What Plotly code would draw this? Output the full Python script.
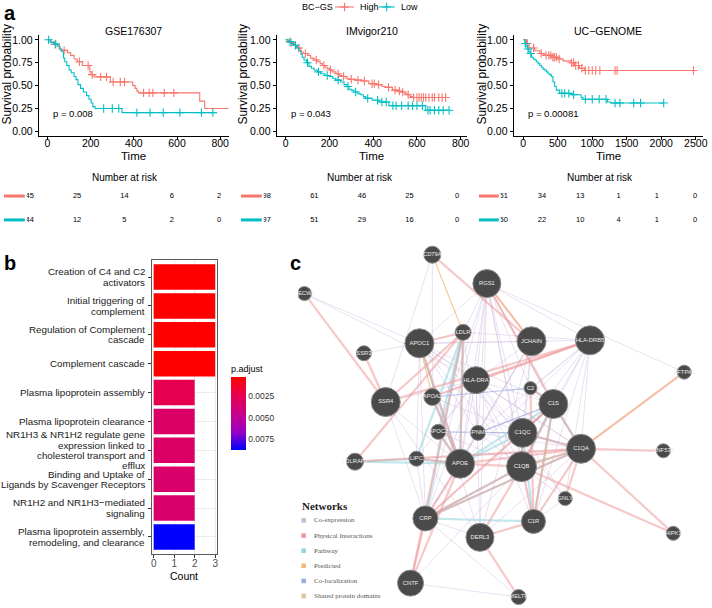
import numpy as np
import plotly.graph_objects as go

W, H = 712, 608
FONT = "Liberation Sans, Arial, sans-serif"
SERIF = "Liberation Serif, Times New Roman, serif"
RED = "#F8766D"
CYAN = "#00BFC4"

# ---------------- Panel a: Kaplan-Meier data ----------------
km_titles = ["GSE176307", "IMvigor210", "UC\u2212GENOME"]
km_pvals = ["p = 0.008", "p = 0.043", "p = 0.00081"]

gse_high_t = [0, 15, 31, 54, 61, 92, 107, 123, 138, 161, 196, 202, 215, 291, 395, 406, 414, 421, 705, 728]
gse_high_s = [1.0, 0.975, 0.95, 0.90, 0.885, 0.86, 0.83, 0.79, 0.76, 0.72, 0.65, 0.62, 0.595, 0.54, 0.50, 0.47, 0.44, 0.42, 0.33, 0.25]
gse_high_end = 838
gse_high_cens = [35, 77, 148, 188, 207, 246, 273, 304, 337, 357, 445, 471, 488, 541, 585]

gse_low_t = [0, 12, 31, 46, 58, 66, 74, 80, 89, 100, 110, 123, 132, 141, 153, 166, 181, 192, 202, 210, 220, 345]
gse_low_s = [1.0, 0.975, 0.955, 0.93, 0.90, 0.87, 0.80, 0.76, 0.72, 0.67, 0.64, 0.60, 0.565, 0.51, 0.47, 0.43, 0.39, 0.35, 0.31, 0.27, 0.25, 0.205]
gse_low_end = 766
gse_low_cens = [5, 38, 260, 300, 330, 414, 475, 536, 613, 713, 766]

imv_high_t = [0, 10, 20, 30, 46, 55, 69, 80, 100, 114, 130, 145, 158, 168, 180, 190, 200, 213, 230, 245, 259, 275, 290, 320, 350, 381, 411, 440, 457, 488, 510, 526, 545, 556, 568, 579]
imv_high_s = [1.0, 0.99, 0.97, 0.95, 0.93, 0.91, 0.87, 0.85, 0.83, 0.80, 0.78, 0.76, 0.74, 0.72, 0.70, 0.69, 0.67, 0.65, 0.63, 0.61, 0.60, 0.58, 0.57, 0.56, 0.55, 0.52, 0.51, 0.49, 0.48, 0.45, 0.44, 0.43, 0.41, 0.40, 0.38, 0.37]
imv_high_end = 731
imv_high_cens = [25, 60, 90, 140, 175, 205, 240, 265, 300, 330, 360, 395, 405, 425, 470, 500, 520, 535, 560, 585, 600, 610, 620, 630, 640, 655, 670, 680, 700, 715, 731]

imv_low_t = [0, 15, 25, 38, 50, 61, 70, 76, 84, 95, 107, 118, 130, 145, 160, 180, 198, 215, 229, 251, 267, 280, 290, 300, 312, 330, 343, 355, 366, 396, 427, 472, 640]
imv_low_s = [1.0, 0.98, 0.96, 0.94, 0.91, 0.88, 0.84, 0.81, 0.78, 0.75, 0.71, 0.69, 0.67, 0.65, 0.63, 0.61, 0.60, 0.58, 0.56, 0.54, 0.51, 0.49, 0.46, 0.45, 0.43, 0.41, 0.40, 0.38, 0.36, 0.34, 0.32, 0.28, 0.23]
imv_low_end = 747
imv_low_cens = [20, 45, 100, 150, 190, 240, 285, 320, 375, 420, 440, 460, 490, 505, 530, 560, 580, 600, 625, 650, 660, 680, 700, 720, 747]

ucg_high_t = [0, 48, 86, 168, 240, 297, 407, 503, 575, 694, 742, 814, 886]
ucg_high_s = [1.0, 0.96, 0.91, 0.88, 0.85, 0.83, 0.81, 0.79, 0.77, 0.75, 0.72, 0.69, 0.665]
ucg_high_end = 2466
ucg_high_cens = [60, 150, 260, 330, 370, 400, 430, 450, 480, 520, 700, 730, 760, 800, 850, 900, 950, 1000, 1050, 1110, 1330, 1360, 2466]

ucg_low_t = [0, 24, 40, 57, 80, 100, 120, 145, 168, 190, 215, 240, 263, 287, 311, 335, 359, 383, 407, 431, 455, 479, 527, 694, 838, 862, 1221, 1269]
ucg_low_s = [1.0, 0.96, 0.93, 0.90, 0.87, 0.85, 0.81, 0.79, 0.78, 0.76, 0.74, 0.72, 0.70, 0.68, 0.67, 0.65, 0.63, 0.62, 0.60, 0.54, 0.49, 0.45, 0.415, 0.40, 0.37, 0.35, 0.32, 0.31]
ucg_low_end = 2035
ucg_low_cens = [30, 70, 110, 560, 600, 660, 730, 900, 1000, 1100, 1200, 1330, 1400, 1600, 1700, 2035]

# Number at risk tables
risk_times = [[0, 200, 400, 600, 800], [0, 200, 400, 600, 800], [0, 500, 1000, 1500, 2000, 2500]]
risk_high = [[45, 25, 14, 6, 2], [98, 61, 46, 25, 0], [51, 34, 13, 1, 1, 0]]
risk_low = [[44, 12, 5, 2, 0], [97, 51, 29, 16, 0], [50, 22, 10, 4, 1, 0]]

# ---------------- Panel b: enrichment bars ----------------
pathways = [
    "Creation of C4 and C2\nactivators",
    "Initial triggering of\ncomplement",
    "Regulation of Complement\ncascade",
    "Complement cascade",
    "Plasma lipoprotein assembly",
    "Plasma lipoprotein clearance",
    "NR1H3 & NR1H2 regulate gene\nexpression linked to\ncholesterol transport and\nefflux",
    "Binding and Uptake of\nLigands by Scavenger Receptors",
    "NR1H2 and NR1H3\u2212mediated\nsignaling",
    "Plasma lipoprotein assembly,\nremodeling, and clearance",
]
path_count = [3, 3, 3, 3, 2, 2, 2, 2, 2, 2]
path_padj = [0.00025, 0.00025, 0.00025, 0.00025, 0.0024, 0.0032, 0.0032, 0.0034, 0.0034, 0.0088]
padj_ticks = [0.0025, 0.0050, 0.0075]

# ---------------- Panel c: gene network ----------------
node_names = ["CD79A", "RGS1", "HECW2", "SSR3", "APOC1", "LDLR", "JCHAIN", "HLA-DRB5", "HLA-DRA", "C2",
              "C1S", "SSR4", "APOA2", "SFTPA1", "APOC2", "GPNMB", "C1QC", "C1QA", "ZNF536", "LDLRAP1",
              "LIPC", "APOE", "C1QB", "GNLY", "CRP", "C1R", "DERL3", "HIPK3", "CNTF", "MELTF"]
node_x = [435, 490, 306, 366, 422, 466, 535, 594, 479, 534, 557, 388, 435, 689, 441, 481, 526, 585, 668, 357,
          419, 463, 525, 569, 428, 537, 483, 678, 413, 522]
node_y = [254, 283, 293, 353, 343, 332, 341, 340, 380, 388, 404, 402, 397, 372, 432, 433, 433, 449, 451, 462,
          459, 464, 467, 499, 519, 522, 538, 534, 584, 598]
node_size = [17, 28, 14, 15, 29, 16, 29, 29, 27, 13, 29, 29, 17, 14, 15, 15, 29, 29, 14, 17,
             15, 29, 30, 14, 25, 24, 28, 14, 26, 15]

net_types = ["Co-expression", "Physical Interactions", "Pathway", "Predicted", "Co-localization", "Shared protein domains"]
net_colors = ["#C9B5DD", "#EE9A9A", "#8FD6DD", "#F7B57A", "#98A9E0", "#DCC59E"]

edges_coexp = [
    ("RGS1", "HLA-DRA"), ("RGS1", "APOE"), ("RGS1", "C1QC"), ("RGS1", "C1QB"), ("RGS1", "GPNMB"), ("RGS1", "C1QA"),
    ("RGS1", "HLA-DRB5"), ("RGS1", "CRP"), ("RGS1", "APOC2"), ("RGS1", "C1S"), ("RGS1", "LDLR"), ("RGS1", "APOC1"),
    ("RGS1", "C2"), ("RGS1", "DERL3"), ("RGS1", "C1R"), ("RGS1", "SFTPA1"),
    ("HLA-DRA", "APOC1"), ("HLA-DRA", "C1QC"), ("HLA-DRA", "C1QB"), ("HLA-DRA", "C1QA"), ("HLA-DRA", "GPNMB"),
    ("HLA-DRA", "C1S"), ("HLA-DRA", "APOE"), ("HLA-DRA", "CRP"), ("HLA-DRA", "C1R"), ("HLA-DRA", "GNLY"),
    ("HLA-DRA", "APOA2"), ("HLA-DRA", "SSR4"), ("HLA-DRA", "DERL3"), ("HLA-DRA", "LIPC"), ("HLA-DRA", "APOC2"),
    ("HLA-DRA", "JCHAIN"), ("HLA-DRB5", "C1QA"), ("HLA-DRB5", "C1QB"), ("HLA-DRB5", "C1QC"), ("HLA-DRB5", "APOE"),
    ("HLA-DRB5", "C1S"), ("HLA-DRB5", "GNLY"), ("HLA-DRB5", "C2"), ("HLA-DRB5", "GPNMB"), ("HLA-DRB5", "APOC1"),
    ("HLA-DRB5", "C1R"), ("APOC1", "C1QC"), ("APOC1", "C1QB"), ("APOC1", "C1QA"), ("APOC1", "GPNMB"),
    ("APOC1", "C1S"), ("APOC1", "CRP"), ("APOC1", "LIPC"), ("APOC1", "JCHAIN"), ("APOC1", "DERL3"),
    ("JCHAIN", "C1QC"), ("JCHAIN", "APOE"), ("JCHAIN", "C1QB"), ("JCHAIN", "DERL3"), ("JCHAIN", "GPNMB"),
    ("JCHAIN", "CRP"), ("GPNMB", "C1QC"), ("GPNMB", "C1QB"), ("GPNMB", "C1QA"), ("GPNMB", "APOE"),
    ("GPNMB", "C1S"), ("GPNMB", "CRP"), ("GNLY", "C1QC"), ("GNLY", "C1QB"), ("GNLY", "C1R"),
    ("HECW2", "HLA-DRA"), ("HECW2", "APOC1"), ("CD79A", "SSR4"), ("CD79A", "APOA2"), ("CNTF", "MELTF"),
    ("SSR4", "DERL3"), ("SSR4", "APOE"), ("CRP", "C1S"), ("LIPC", "C1QA"), ("APOC2", "C1QB"),
    ("DERL3", "C1QA"), ("SSR3", "APOC1"), ("LDLR", "GPNMB"), ("LDLR", "HLA-DRB5"), ("APOA2", "C1QC"),
    ("CRP", "DERL3"), ("LIPC", "CRP"), ("CNTF", "C1QB"), ("MELTF", "CRP"), ("SSR4", "CRP"),
]
edges_physical = [
    ("HECW2", "SSR4"), ("SSR3", "SSR4"), ("CD79A", "JCHAIN"), ("RGS1", "JCHAIN"), ("HLA-DRB5", "HLA-DRA"),
    ("HLA-DRB5", "APOA2"), ("SFTPA1", "C1QA"), ("ZNF536", "C1QA"), ("HIPK3", "C1QA"), ("HIPK3", "C1QB"),
    ("DERL3", "MELTF"), ("DERL3", "C1QB"), ("DERL3", "C1R"), ("CNTF", "CRP"), ("CNTF", "APOE"), ("CNTF", "LDLR"),
    ("CRP", "C1QA"), ("CRP", "C1QB"), ("CRP", "C1S"), ("CRP", "APOE"), ("LDLRAP1", "LDLR"), ("LDLRAP1", "C1QA"),
    ("APOE", "C1QB"), ("APOE", "C1QA"), ("APOE", "APOC1"), ("APOE", "LDLR"), ("C1QA", "C1QB"), ("C1QA", "C1QC"),
    ("C1QB", "C1QC"), ("C1QA", "C1R"), ("C1QA", "C1S"), ("C1R", "C1S"), ("C1QB", "C1S"), ("C1QC", "C1S"),
    ("C1R", "C1QB"), ("C2", "C1S"), ("C2", "C1R"), ("APOC1", "LDLR"), ("APOA2", "APOE"), ("LIPC", "APOE"),
    ("APOC2", "APOE"), ("GNLY", "C1QA"), ("SSR4", "LDLR"), ("RGS1", "C1S"), ("HLA-DRB5", "SSR4"),
]
edges_pathway = [
    ("LDLRAP1", "APOE"), ("LDLRAP1", "LIPC"), ("LDLR", "CRP"), ("LDLR", "APOE"), ("LDLR", "APOC2"),
    ("LDLR", "LIPC"), ("APOC1", "APOE"), ("APOA2", "APOE"), ("APOC2", "APOE"), ("LIPC", "APOE"),
    ("CRP", "C1R"), ("CRP", "C1QB"), ("C1QA", "C1QB"), ("C1QB", "C1QC"), ("C1QA", "C1QC"), ("C1S", "C1R"),
    ("C1S", "C1QB"), ("C1S", "C1QC"), ("C1S", "C1QA"), ("C2", "C1S"), ("C1R", "C1QC"), ("APOE", "C1S"),
    ("CRP", "C1QA"), ("APOE", "C1QC"),
]
edges_predicted = [("SFTPA1", "C1QA"), ("CD79A", "LDLR"), ("RGS1", "JCHAIN"), ("APOC1", "APOA2")]
edges_coloc = [("APOA2", "C2"), ("APOC2", "C1QC"), ("GPNMB", "C1S")]
edges_domain = [("C1QA", "C1QB"), ("C1R", "C1S")]

# ---------------- helpers ----------------
def xdom(a, b):
    return [a / W, b / W]


def ydom(top, bottom):
    return [1 - bottom / H, 1 - top / H]


def surv_at(t, s, c):
    idx = np.searchsorted(np.array(t), np.array(c), side="right") - 1
    return np.array(s)[idx]


annotations = []


def ann(**kw):
    d = dict(showarrow=False, xanchor="center", yanchor="middle", xref="paper", yref="paper")
    d.update(kw)
    annotations.append(d)


fig = go.Figure()
shapes = []
layout_axes = {}

km_data = [
    ((gse_high_t, gse_high_s, gse_high_end, gse_high_cens), (gse_low_t, gse_low_s, gse_low_end, gse_low_cens)),
    ((imv_high_t, imv_high_s, imv_high_end, imv_high_cens), (imv_low_t, imv_low_s, imv_low_end, imv_low_cens)),
    ((ucg_high_t, ucg_high_s, ucg_high_end, ucg_high_cens), (ucg_low_t, ucg_low_s, ucg_low_end, ucg_low_cens)),
]
km_xdom = [(38, 230), (278, 470), (517, 708)]
km_xrng = [(-41, 841), (-41, 829), (-139, 2605)]
km_ylab_x = [6, 244, 485]
km_top, km_bot = 33.4, 134.6

for k in range(3):
    sfx = "" if k == 0 else str(k + 1)
    for (t, s, end, cens), col in zip(km_data[k], [RED, CYAN]):
        fig.add_trace(go.Scatter(x=list(t) + [end], y=list(s) + [s[-1]], mode="lines",
                                 line=dict(color=col, width=1.1, shape="hv"),
                                 xaxis="x" + sfx, yaxis="y" + sfx, showlegend=False, hoverinfo="skip"))
        fig.add_trace(go.Scatter(x=cens, y=surv_at(t, s, cens), mode="markers",
                                 marker=dict(symbol="cross-thin", size=6, line=dict(color=col, width=1.1)),
                                 xaxis="x" + sfx, yaxis="y" + sfx, showlegend=False, hoverinfo="skip"))
    layout_axes["xaxis" + sfx] = dict(
        domain=xdom(*km_xdom[k]), range=list(km_xrng[k]), anchor="y" + sfx,
        tickvals=risk_times[k], showline=True, linecolor="black", linewidth=1,
        ticks="outside", ticklen=3, tickcolor="black", showgrid=False, zeroline=False, ticklabelstandoff=-6,
        tickfont=dict(size=10.5, color="black", family=FONT))
    layout_axes["yaxis" + sfx] = dict(
        domain=ydom(km_top, km_bot), range=[-0.05, 1.05], anchor="x" + sfx,
        tickvals=[0, 0.25, 0.5, 0.75, 1.0], ticktext=["0.00", "0.25", "0.50", "0.75", "1.00"],
        showline=True, linecolor="black", linewidth=1, ticks="outside", ticklen=3, tickcolor="black",
        showgrid=False, zeroline=False, tickfont=dict(size=10.5, color="black", family=FONT))
    cx = (km_xdom[k][0] + km_xdom[k][1]) / 2
    ann(text=km_titles[k], x=cx / W, y=1 - 29 / H, font=dict(size=10.5, color="black", family=FONT))
    ann(text="Time", x=cx / W, y=1 - 155 / H, font=dict(size=11.5, color="black", family=FONT))
    ann(text="Survival probability", x=km_ylab_x[k] / W, y=1 - 72 / H, textangle=-90,
        font=dict(size=12, color="black", family=FONT))
    ann(text=km_pvals[k], x=0, y=0.2, xref="x" + sfx, yref="y" + sfx, xanchor="left", xshift=3,
        font=dict(size=9.5, color="black", family=FONT))

# Number at risk tables
risk_dom = [(26, 232), (265, 470), (504, 708)]
risk_zero = [29, 268, 507]
risk_scale = [0.23875, 0.24, 0.0772]
risk_title_x = [125, 362, 604]
risk_key = [(3, 24), (242, 263), (482, 502)]
for k in range(3):
    n = 4 + k
    a, b = risk_dom[k]
    r0 = (a - risk_zero[k]) / risk_scale[k]
    r1 = (b - risk_zero[k]) / risk_scale[k]
    for vals, yv in [(risk_high[k], 2), (risk_low[k], 1)]:
        fig.add_trace(go.Scatter(x=risk_times[k], y=[yv] * len(vals), text=[str(v) for v in vals],
                                 mode="text", textfont=dict(size=7.5, color="black", family=FONT),
                                 xaxis="x%d" % n, yaxis="y%d" % n, showlegend=False, hoverinfo="skip"))
    layout_axes["xaxis%d" % n] = dict(domain=xdom(a, b), range=[r0, r1], visible=False, anchor="y%d" % n)
    layout_axes["yaxis%d" % n] = dict(domain=ydom(183, 231), range=[0.5, 2.5], visible=False, anchor="x%d" % n)
    ann(text="Number at risk", x=risk_title_x[k] / W, y=1 - 176 / H, font=dict(size=10, color="black", family=FONT))
    for yy, col in [(195, RED), (219, CYAN)]:
        shapes.append(dict(type="line", xref="paper", yref="paper", x0=risk_key[k][0] / W, x1=risk_key[k][1] / W,
                           y0=1 - yy / H, y1=1 - yy / H, line=dict(color=col, width=3)))

# Legend for panel a (drawn in a helper axis)
layout_axes["xaxis9"] = dict(domain=[0, 1], range=[0, W], visible=False, anchor="y9")
layout_axes["yaxis9"] = dict(domain=ydom(0, 12), range=[12, 0], visible=False, anchor="x9")
for (g0, g1), col, lab in [((337, 356), RED, "High"), ((381, 397), CYAN, "Low")]:
    fig.add_trace(go.Scatter(x=[g0, g1], y=[5, 5], mode="lines", line=dict(color=col, width=1.1),
                             xaxis="x9", yaxis="y9", showlegend=False, hoverinfo="skip"))
    fig.add_trace(go.Scatter(x=[(g0 + g1) / 2], y=[5], mode="markers",
                             marker=dict(symbol="cross-thin", size=6, line=dict(color=col, width=1.1)),
                             xaxis="x9", yaxis="y9", showlegend=False, hoverinfo="skip"))
    ann(text=lab, x=(g1 + 4) / W, y=1 - 5 / H, xanchor="left", font=dict(size=9, color="black", family=FONT))
ann(text="BC\u2212GS", x=302 / W, y=1 - 5 / H, xanchor="left", font=dict(size=9, color="black", family=FONT))

# ---------------- Panel b ----------------
cat_keys = [p.replace("\n", " ") for p in pathways]
# colour runs red (small p) -> blue (large p); values negated so that red sits at the top of the colourbar
colorscale = [[0, "#0000FF"], [0.25, "#9A00C2"], [0.5, "#C90089"], [0.75, "#E80050"], [1, "#FF0000"]]
neg_padj = [-v for v in path_padj]
fig.add_trace(go.Bar(
    x=path_count, y=cat_keys, orientation="h", width=0.88,
    marker=dict(color=neg_padj, colorscale=colorscale, cmin=min(neg_padj), cmax=max(neg_padj),
                line=dict(width=0),
                colorbar=dict(x=232 / W, xanchor="left", y=1 - 362 / H, yanchor="top", len=88, lenmode="pixels",
                              thickness=15, thicknessmode="pixels", outlinewidth=0, xpad=0, ypad=0,
                              tickvals=[-v for v in padj_ticks], ticktext=["%.4f" % v for v in padj_ticks],
                              ticks="", tickfont=dict(size=8.5, color="#333333", family=FONT),
                              title=dict(text="p.adjust", side="top", font=dict(size=9, color="black", family=FONT)))),
    xaxis="x7", yaxis="y7", showlegend=False, hoverinfo="skip"))
layout_axes["xaxis7"] = dict(domain=xdom(152, 218), range=[-0.097, 3.097], anchor="y7", tickvals=[0, 1, 2, 3],
                             showline=True, mirror=True, linecolor="#333333", linewidth=0.8,
                             ticks="outside", ticklen=3, tickcolor="#333333", showgrid=True, gridcolor="#EBEBEB",
                             zeroline=False, ticklabelstandoff=-3,
                             tickfont=dict(size=10, color="#4D4D4D", family=FONT),
                             minor=dict(tickvals=[0.5, 1.5, 2.5], showgrid=True, gridcolor="#F4F4F4", gridwidth=0.5))
layout_axes["yaxis7"] = dict(domain=ydom(259, 555), type="category", categoryorder="array", categoryarray=cat_keys,
                             range=[len(cat_keys) - 0.4, -0.6], anchor="x7", showticklabels=False,
                             showline=True, mirror=True, linecolor="#333333", linewidth=0.8,
                             ticks="outside", ticklen=3, tickcolor="#333333", showgrid=True, gridcolor="#EBEBEB")
for key, lab in zip(cat_keys, pathways):
    lines = lab.split("\n")
    nl = len(lines)
    for j, ln in enumerate(lines):
        ann(text=ln, x=147 / W, y=key, yref="y7", xanchor="right", yshift=((nl - 1) / 2 - j) * 10.3,
            font=dict(size=9.8, color="#1A1A1A", family=FONT))
ann(text="Count", x=185 / W, y=1 - 577 / H, font=dict(size=10.5, color="black", family=FONT))

# ---------------- Panel c ----------------
pos = {n: (x, y) for n, x, y in zip(node_names, node_x, node_y)}
edge_sets = [edges_coexp, edges_pathway, edges_physical, edges_predicted, edges_coloc, edges_domain]
edge_idx = [0, 2, 1, 3, 4, 5]
edge_width = [0.7, 2.2, 2.2, 1.1, 1.1, 1.0]
edge_alpha = [0.6, 0.55, 0.55, 0.8, 0.7, 0.6]


def hex_rgba(h, a):
    h = h.lstrip("#")
    return "rgba(%d,%d,%d,%.2f)" % (int(h[0:2], 16), int(h[2:4], 16), int(h[4:6], 16), a)


for es, ti, wdt, al in zip(edge_sets, edge_idx, edge_width, edge_alpha):
    ex, ey = [], []
    for a, b in es:
        ex += [pos[a][0], pos[b][0], None]
        ey += [pos[a][1], pos[b][1], None]
    fig.add_trace(go.Scatter(x=ex, y=ey, mode="lines", line=dict(color=hex_rgba(net_colors[ti], al), width=wdt),
                             xaxis="x8", yaxis="y8", showlegend=False, hoverinfo="skip"))
fig.add_trace(go.Scatter(x=node_x, y=node_y, mode="markers+text", text=node_names,
                         marker=dict(size=node_size, color="#4A4A4A", opacity=1,
                                     line=dict(color="#8A8A8A", width=1)),
                         textposition="middle center", textfont=dict(size=5.8, color="#EDEDED", family=FONT),
                         xaxis="x8", yaxis="y8", showlegend=False, hoverinfo="skip"))
layout_axes["xaxis8"] = dict(domain=xdom(300, 712), range=[300, 712], visible=False, anchor="y8")
layout_axes["yaxis8"] = dict(domain=ydom(240, 608), range=[608, 240], visible=False, anchor="x8")

ann(text="<b>Networks</b>", x=302 / W, y=1 - 506 / H, xanchor="left", font=dict(size=11, color="#222222", family=SERIF))
for i, (nm, col) in enumerate(zip(net_types, net_colors)):
    yy = 521 + i * 15.2
    shapes.append(dict(type="rect", xref="paper", yref="paper", x0=303 / W, x1=307.5 / W,
                       y0=1 - (yy + 2.3) / H, y1=1 - (yy - 2.3) / H, fillcolor=col, line=dict(width=0)))
    ann(text=nm, x=314 / W, y=1 - yy / H, xanchor="left", font=dict(size=7, color="#555555", family=SERIF))

# Panel letters
for lab, x, y in [("a", 9, 11), ("b", 9, 262), ("c", 297, 262)]:
    ann(text="<b>%s</b>" % lab, x=x / W, y=1 - y / H, font=dict(size=20, color="black", family=FONT))

fig.update_layout(width=W, height=H, margin=dict(l=0, r=0, t=0, b=0), paper_bgcolor="white",
                  plot_bgcolor="white", showlegend=False, annotations=annotations, shapes=shapes,
                  font=dict(family=FONT), bargap=0.12, **layout_axes)
fig.write_html("out.html", config={"displayModeBar": False, "staticPlot": True},
               post_script="document.body.style.margin='0';")
